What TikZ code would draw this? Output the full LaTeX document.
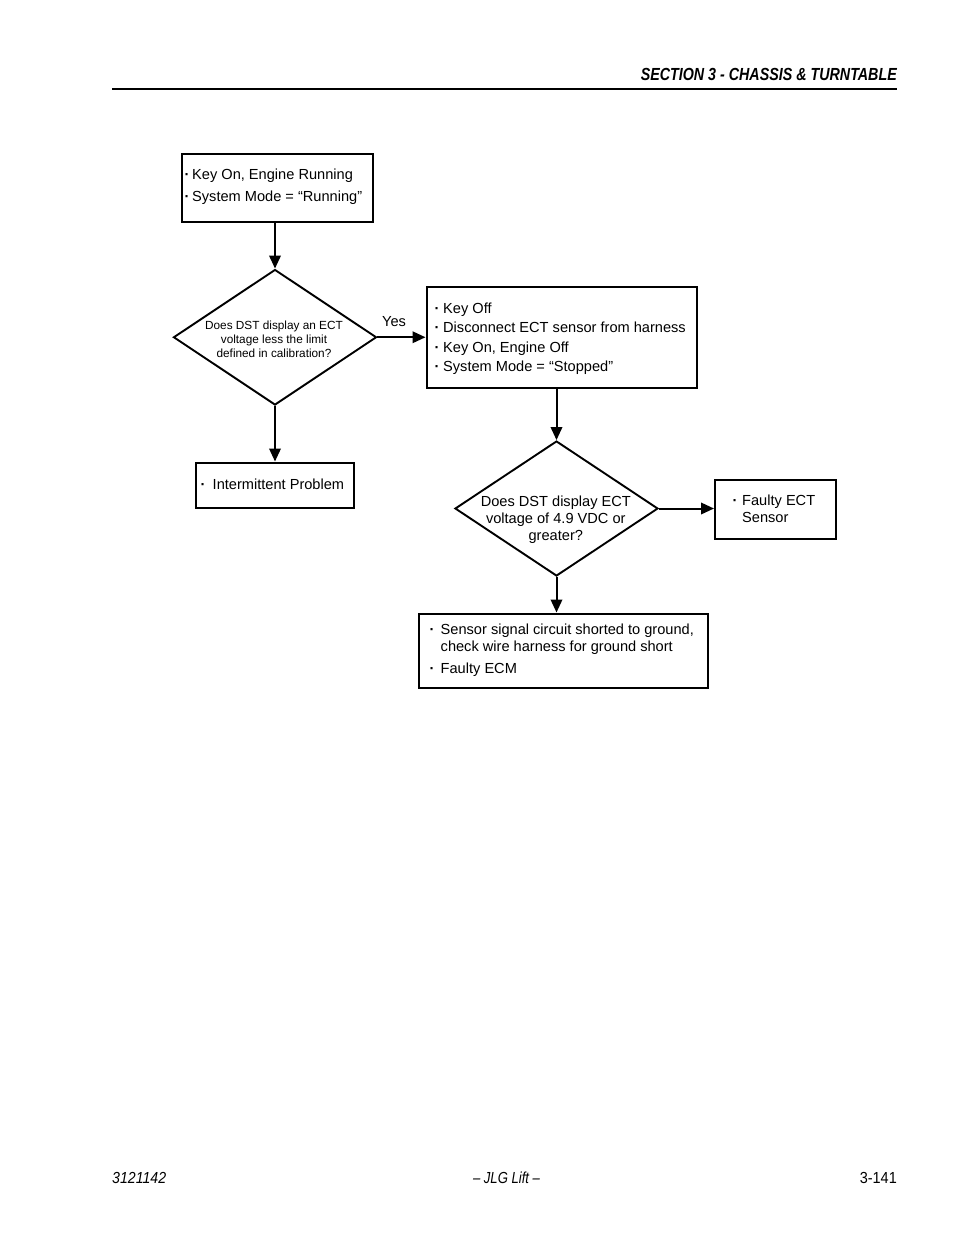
\documentclass[tikz,border=0pt]{standalone}
\usepackage{fontspec}
\setmainfont{Liberation Sans}
\usepackage{graphicx}
\usetikzlibrary{shapes.geometric,arrows.meta}
\begin{document}
\begin{tikzpicture}[x=1pt,y=-1pt,
  box/.style={draw, line width=2pt, rectangle, inner sep=0pt},
  dia/.style={draw, line width=1.9pt, diamond, inner sep=0pt},
  txt/.style={anchor=base west, inner sep=0pt, font=\fontsize{14.6}{17}\selectfont},
  bul/.style={anchor=base, inner sep=0pt, font=\fontsize{14.6}{17}\selectfont\bfseries},
  ctr/.style={anchor=base, inner sep=0pt, font=\fontsize{14.6}{17}\selectfont},
  small/.style={anchor=base, inner sep=0pt, font=\fontsize{11.8}{14}\selectfont},
  arr/.style={line width=2pt, -{Triangle[length=13pt,width=11.5pt]}},
]
\useasboundingbox[fill=white] (0,0) rectangle (954,1235);

% header and footer
\node[anchor=base east, inner sep=0pt] (hdr) at (897,80.5)
  {\resizebox{256pt}{\height}{\fontsize{17.5}{20}\selectfont\bfseries\itshape SECTION 3 - CHASSIS \& TURNTABLE}};
\draw[line width=1.6pt] (112,89) -- (897,89);
\node[anchor=base west, inner sep=0pt] (ft1) at (112,1183.5)
  {\resizebox{54pt}{\height}{\fontsize{16}{18}\selectfont\itshape 3121142}};
\node[anchor=base, inner sep=0pt] (ft2) at (506.5,1183.5)
  {\resizebox{67pt}{\height}{\fontsize{16}{18}\selectfont\itshape – JLG Lift –}};
\node[anchor=base east, inner sep=0pt] (ft3) at (897,1183.5)
  {\resizebox{37pt}{\height}{\fontsize{16}{18}\selectfont 3-141}};

% boxes
\node[box, minimum width=191.5pt, minimum height=68pt] (b1) at (277.25,188) {};
\node[box, minimum width=270.5pt, minimum height=100.5pt] (b2) at (561.75,337.25) {};
\node[box, minimum width=158pt, minimum height=45.5pt] (b3) at (274.5,485.25) {};
\node[box, minimum width=121pt, minimum height=59.5pt] (b4) at (775.5,509.25) {};
\node[box, minimum width=289pt, minimum height=74pt] (b5) at (563,650.5) {};

% diamonds
\node[dia, minimum width=203pt, minimum height=135.5pt] (d1) at (275,337.25) {};
\node[dia, minimum width=203pt, minimum height=135pt] (d2) at (556.5,508.5) {};

% box 1 text
\node[bul] (b1d1) at (187,179) {·};
\node[txt] (b1t1) at (192,179) {Key On, Engine Running};
\node[bul] (b1d2) at (187,201.5) {·};
\node[txt] (b1t2) at (192,201.5) {System Mode = “Running”};

% diamond 1 text
\node[small] (d1t1) at (274,329) {Does DST display an ECT};
\node[small] (d1t2) at (274,343) {voltage less the limit};
\node[small] (d1t3) at (274,357) {defined in calibration?};

% box 2 text
\node[bul] (b2d1) at (437,313) {·};
\node[txt] (b2t1) at (443,313) {Key Off};
\node[bul] (b2d2) at (437,332.5) {·};
\node[txt] (b2t2) at (443,332.5) {Disconnect ECT sensor from harness};
\node[bul] (b2d3) at (437,352) {·};
\node[txt] (b2t3) at (443,352) {Key On, Engine Off};
\node[bul] (b2d4) at (437,371.5) {·};
\node[txt] (b2t4) at (443,371.5) {System Mode = “Stopped”};

% box 3 text
\node[bul] (b3d1) at (203,489.5) {·};
\node[txt] (b3t1) at (212.5,489.5) {Intermittent Problem};

% diamond 2 text
\node[ctr] (d2t1) at (555.8,506) {Does DST display ECT};
\node[ctr] (d2t2) at (555.8,523) {voltage of 4.9 VDC or};
\node[ctr] (d2t3) at (555.8,540) {greater?};

% box 4 text
\node[bul] (b4d1) at (735,505.5) {·};
\node[txt] (b4t1) at (742,505.5) {Faulty ECT};
\node[txt] (b4t2) at (742,522.3) {Sensor};

% box 5 text
\node[bul] (b5d1) at (432,634.5) {·};
\node[txt] (b5t1) at (440.5,634.5) {Sensor signal circuit shorted to ground,};
\node[txt] (b5t2) at (440.5,651) {check wire harness for ground short};
\node[bul] (b5d2) at (432,673.5) {·};
\node[txt] (b5t3) at (440.5,673.5) {Faulty ECM};

% connectors
\draw[arr] (d1.north |- b1.south) -- (d1.north);
\draw[arr] (d1.east) -- (d1.east -| b2.west);
\node[ctr] (yes) at (394,326.5) {Yes};
\draw[arr] (d1.south) -- (d1.south |- b3.north);
\draw[arr] (d2.north |- b2.south) -- (d2.north);
\draw[arr] (d2.east) -- (d2.east -| b4.west);
\draw[arr] (d2.south) -- (d2.south |- b5.north);
\end{tikzpicture}
\end{document}
